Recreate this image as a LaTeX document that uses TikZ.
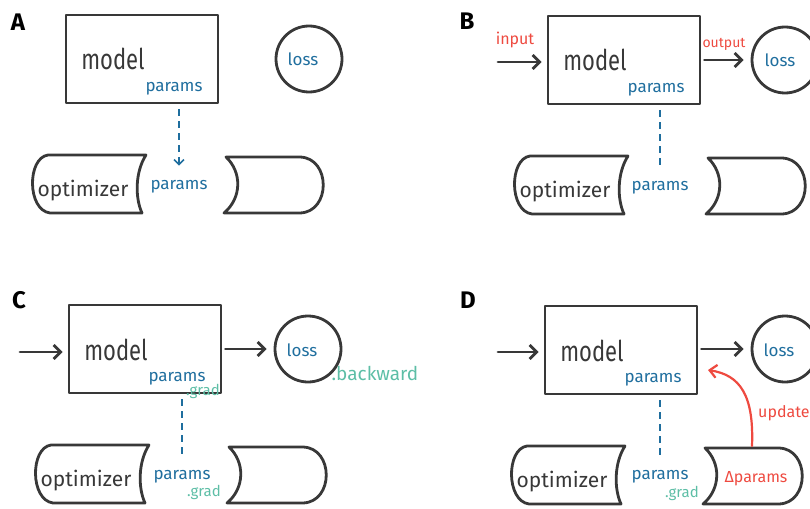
\documentclass[tikz,border=0pt]{standalone}
\usepackage{fontspec}
\usepackage{graphicx}
\setmainfont{Fira Sans}
\usetikzlibrary{arrows.meta}
\definecolor{ink}{HTML}{383838}
\definecolor{pblue}{HTML}{1F6E9E}
\definecolor{pred}{HTML}{EE4A40}
\definecolor{pteal}{HTML}{5DBEA6}
\newcommand{\tallword}[1]{\scalebox{1}[1.3]{#1}}
\tikzset{
  box/.style={draw=ink, line width=2.8pt, line join=round, minimum width=152pt, minimum height=88pt, inner sep=0pt},
  lossc/.style={draw=ink, line width=2.8pt, circle, minimum size=66pt, inner sep=0pt},
  scrollpiece/.style={draw=ink, line width=2.8pt, line join=round},
  txt/.style={inner sep=0pt, anchor=base},
  modeltxt/.style={txt, text=ink, font=\fontsize{22}{22}\selectfont},
  opttxt/.style={txt, text=ink, font=\fontsize{21}{21}\selectfont},
  ptxt/.style={txt, text=pblue, font=\fontsize{17}{17}\selectfont},
  losstxt/.style={txt, text=pblue, font=\fontsize{17}{17}\selectfont},
  redtxt/.style={txt, text=pred, font=\fontsize{16}{16}\selectfont},
  gradtxt/.style={txt, text=pteal, font=\fontsize{15}{15}\selectfont},
  tealtxt/.style={txt, text=pteal, font=\fontsize{19}{19}\selectfont},
  paneltxt/.style={inner sep=0pt, text=black, font=\fontsize{24}{24}\selectfont\bfseries},
  flowarrow/.style={draw=ink, line width=2.8pt, line cap=round, -{Straight Barb[length=7pt,width=14pt]}},
  dashline/.style={draw=pblue, line width=1.6pt, dash pattern=on 7pt off 5pt},
  redarrow/.style={draw=pred, line width=2.2pt, line cap=round, -{Straight Barb[length=7pt,width=13pt]}},
}
\newcommand{\drawscrollpieces}{%
  \draw[scrollpiece] (48,155) -- (146,155) .. controls (135,172) and (135,198) .. (142,213)
     -- (50,213) .. controls (27,210) and (27,158) .. (48,155) -- cycle;
  \draw[scrollpiece] (226,157) -- (300,157) .. controls (331,158) and (331,212) .. (300,213)
     -- (224,213) .. controls (242,198) and (242,172) .. (226,157) -- cycle;
}
\begin{document}
\begin{tikzpicture}[x=1pt,y=-1pt]
\useasboundingbox (0,0) rectangle (810,508);
\clip (0,0) rectangle (810,508);

% panel labels
\node[paneltxt] (labA) at (18,22) {A};
\node[paneltxt] (labB) at (467,21) {B};
\node[paneltxt] (labC) at (19,300) {C};
\node[paneltxt] (labD) at (468,300) {D};

% ---------------- Panel A
\begin{scope}
  \node[box] (mA) at (142,59) {};
  \node[modeltxt] (tmA) at (113,70) {\tallword{model}};
  \node[ptxt] (ppA) at (174,92) {params};
  \node[lossc] (lA) at (309,59) {};
  \node[losstxt] (tlA) at (303,66) {loss};
  \drawscrollpieces
  \node[opttxt] (oA) at (83,196) {optimizer};
  \node[ptxt] (pA) at (179,189) {params};
  \draw[dashline,-{Straight Barb[length=5pt,width=10pt]}] ([yshift=-5pt]mA.south -| pA.north) -- ([yshift=14pt]pA.north);
\end{scope}

% ---------------- Panel B
\begin{scope}[shift={(482,1)}]
  \node[box] (mB) at (142,59) {};
  \node[modeltxt] (tmB) at (113,70) {\tallword{model}};
  \node[ptxt] (ppB) at (174,92) {params};
  \node[lossc] (lB) at (303,59) {};
  \node[losstxt] (tlB) at (298,66) {loss};
  \drawscrollpieces
  \node[opttxt] (oB) at (83,196) {optimizer};
  \node[ptxt] (pB) at (178,189) {params};
  \draw[dashline] ([yshift=-5pt]mB.south -| pB.north) -- ([yshift=14pt]pB.north);
  \coordinate (inB) at (16,61);
  \draw[flowarrow] (inB) -- ([xshift=-5pt]mB.west |- inB);
  \draw[flowarrow] ([xshift=3pt]mB.east |- lB) -- ([xshift=-7pt]lB.west);
  \node[redtxt] (tinB) at (33,44) {input};
  \node[redtxt,font=\fontsize{14}{14}\selectfont] (toutB) at (242,47) {output};
\end{scope}

% ---------------- Panel C
\begin{scope}[shift={(3,290)}]
  \node[box] (mC) at (142,59) {};
  \node[modeltxt] (tmC) at (113,70) {\tallword{model}};
  \node[ptxt] (ppC) at (174,91) {params};
  \node[gradtxt] (gmC) at (200,105) {.grad};
  \node[lossc] (lC) at (305,59) {};
  \node[losstxt] (tlC) at (299,66) {loss};
  \node[tealtxt] (bwC) at (372,90) {.backward};
  \drawscrollpieces
  \node[opttxt] (oC) at (83,196) {optimizer};
  \node[ptxt] (pC) at (179,189) {params};
  \node[gradtxt] (gpC) at (201,206) {.grad};
  \draw[dashline] ([yshift=-5pt]mC.south -| pC.north) -- ([yshift=14pt]pC.north);
  \coordinate (inC) at (17,62);
  \draw[flowarrow] (inC) -- ([xshift=-5pt]mC.west |- inC);
  \draw[flowarrow] ([xshift=3pt]mC.east |- lC) -- ([xshift=-7pt]lC.west);
\end{scope}

% ---------------- Panel D
\begin{scope}[shift={(479,291)}]
  \node[box] (mD) at (142,59) {};
  \node[modeltxt] (tmD) at (113,70) {\tallword{model}};
  \node[ptxt] (ppD) at (174,91) {params};
  \node[lossc] (lD) at (306,58) {};
  \node[losstxt] (tlD) at (300,65) {loss};
  \drawscrollpieces
  \node[opttxt] (oD) at (83,196) {optimizer};
  \node[ptxt] (pD) at (181,188) {params};
  \node[gradtxt] (gpD) at (203,206) {.grad};
  \draw[dashline] ([yshift=-5pt]mD.south -| pD.north) -- ([yshift=14pt]pD.north);
  \coordinate (inD) at (19,61);
  \draw[flowarrow] (inD) -- ([xshift=-5pt]mD.west |- inD);
  \draw[flowarrow] ([xshift=3pt]mD.east |- lD) -- ([xshift=-7pt]lD.west);
  \node[redtxt] (dpD) at (277,191) {Δparams};
  \node[redtxt,anchor=base west] (upD) at (279,126) {update};
  \coordinate (ustart) at (273,155);
  \coordinate (uend) at (229,79);
  \draw[redarrow] (ustart) .. controls (275,104) and (261,84) .. (uend);
\end{scope}
\end{tikzpicture}
\end{document}
